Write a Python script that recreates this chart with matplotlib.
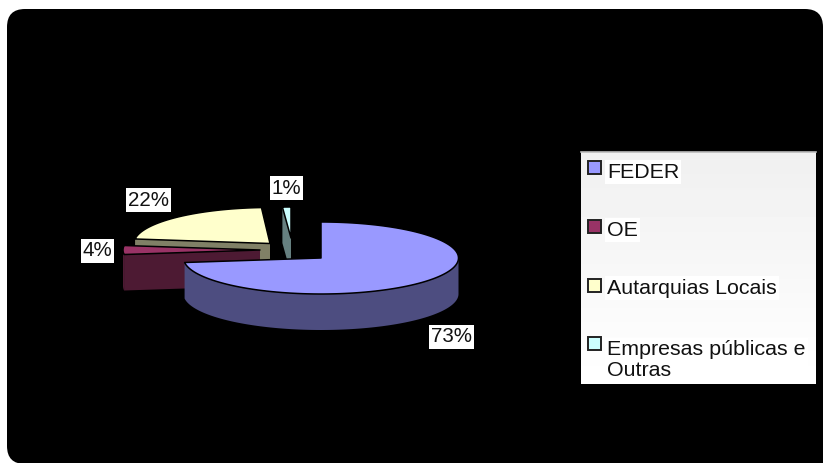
import numpy as np
import matplotlib
matplotlib.use("Agg")
import matplotlib.pyplot as plt
from matplotlib.patches import FancyBboxPatch, Polygon, Rectangle

plt.rcParams["font.family"] = ["Liberation Sans", "DejaVu Sans"]

categories = ["FEDER", "OE", "Autarquias Locais", "Empresas públicas e\nOutras"]
shares = [73, 4, 22, 1]
top_colors = ["#9999FF", "#993366", "#FFFFCC", "#CCFFFF"]
side_colors = ["#4D4D80", "#4D1A33", "#808066", "#668080"]

# Exploded wedge layout in pixel units: apex x, apex y, radius x, radius y
wedge_layout = [
    (321, 258, 137.5, 36),
    (260, 250, 137, 36),
    (270, 243.5, 136, 36),
    (291, 238, 137, 31),
]
depth = 36
label_spots = [(451.5, 337), (97.5, 251), (148.5, 200), (286.5, 188)]
legend_rows = [(167, 172), (226, 230), (285, 288), (343, 360)]

fig = plt.figure(figsize=(8.23, 4.63), dpi=100, facecolor="white")
ax = fig.add_axes([0, 0, 1, 1])
ax.set_xlim(0, 823)
ax.set_ylim(463, 0)
ax.axis("off")

# Rounded black chart area
ax.add_patch(FancyBboxPatch((25, 27), 780, 419, boxstyle="round,pad=18,rounding_size=18",
                            fc="black", ec="none", zorder=0))
ax.add_patch(Rectangle((700, 300), 123, 163, fc="black", ec="none", zorder=0))


def rim(layout, start, stop):
    cx, cy, rx, ry = layout
    t = np.radians(np.linspace(start, stop, 120))
    return np.column_stack([cx + rx * np.sin(t), cy - ry * np.cos(t)])


def draw_wedge(index, start, stop, z):
    layout = wedge_layout[index]
    apex = np.array(layout[:2], dtype=float)
    down = np.array([0, depth])
    outer = rim(layout, start, stop)

    # Outer wall, only where the rim faces the viewer
    lo, hi = max(start, 90), min(stop, 270)
    if lo < hi:
        wall = rim(layout, lo, hi)
        ax.add_patch(Polygon(np.vstack([wall, (wall + down)[::-1]]),
                             fc=side_colors[index], ec="none", zorder=z))
    # Cut face on the clockwise-start side, visible for the left half of the pie
    end_pt = outer[0]
    if start > 180:
        face = np.array([apex, end_pt, end_pt + down, apex + down])
        ax.add_patch(Polygon(face, fc=side_colors[index], ec="none", zorder=z))
    # Top face
    ax.add_patch(Polygon(np.vstack([apex, outer]), fc=top_colors[index],
                         ec="black", lw=1.1, joinstyle="round", zorder=z + 0.5))


edges = np.concatenate([[0], np.cumsum(shares)]) / sum(shares) * 360
for i, z in zip([2, 3, 1, 0], [2, 3, 4, 5]):
    draw_wedge(i, edges[i], edges[i + 1], z)

# Percentage labels
total = sum(shares)
for value, (x, y) in zip(shares, label_spots):
    ax.text(x, y, f"{round(value / total * 100)}%", fontsize=14.8, color="#111111",
            ha="center", va="center", zorder=8,
            bbox=dict(boxstyle="square,pad=0.1", fc="white", ec="none"))

# Legend panel with a faint vertical gradient
gradient = np.linspace(0.94, 1.0, 64).reshape(-1, 1)
ax.imshow(gradient, cmap="gray", vmin=0, vmax=1, extent=(581, 816, 384, 152),
          aspect="auto", zorder=6)
ax.set_xlim(0, 823)
ax.set_ylim(463, 0)
ax.plot([581, 816], [152, 152], color="#BBBBBB", lw=1.2, zorder=7)

for name, color, (swatch_y, text_y) in zip(categories, top_colors, legend_rows):
    ax.add_patch(Rectangle((588, swatch_y - 6.5), 13, 13, fc=color, ec="#222222",
                           lw=1.4, zorder=8))
    ax.text(607, text_y, name, fontsize=15.4, color="#111111", ha="left", va="center",
            linespacing=1.1, zorder=8,
            bbox=dict(boxstyle="square,pad=0.1", fc="white", ec="none"))

fig.savefig("out.png", dpi=100, facecolor="white")
